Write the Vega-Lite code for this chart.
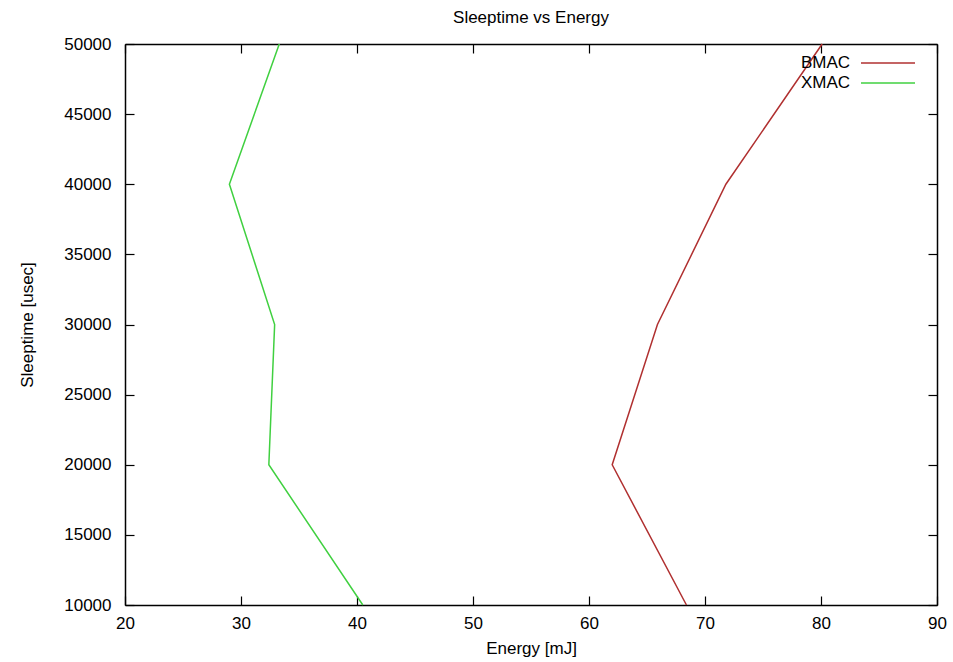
{
  "$schema": "https://vega.github.io/schema/vega-lite/v6.json",
  "width": 812,
  "height": 561,
  "autosize": {"type": "none"},
  "padding": {"left": 125, "top": 44, "right": 16, "bottom": 57},
  "background": "white",
  "config": {
    "view": {"stroke": null},
    "font": "Liberation Sans",
    "axis": {
      "domainColor": "black",
      "tickColor": "black",
      "labelColor": "black",
      "titleColor": "black",
      "labelFontSize": 17,
      "titleFontSize": 17,
      "titleFontWeight": "normal",
      "grid": false,
      "domainWidth": 1.5,
      "tickWidth": 1.2,
      "labelFlush": false
    }
  },
  "title": {"text": "Sleeptime vs Energy", "fontSize": 17, "fontWeight": "normal", "offset": 8, "color": "black"},
  "data": {
    "values": [
      {"protocol": "BMAC", "sleeptime": 10000, "energy": 68.4},
      {"protocol": "BMAC", "sleeptime": 20000, "energy": 62.0},
      {"protocol": "BMAC", "sleeptime": 30000, "energy": 65.9},
      {"protocol": "BMAC", "sleeptime": 40000, "energy": 71.8},
      {"protocol": "BMAC", "sleeptime": 50000, "energy": 80.1},
      {"protocol": "XMAC", "sleeptime": 10000, "energy": 40.5},
      {"protocol": "XMAC", "sleeptime": 20000, "energy": 32.4},
      {"protocol": "XMAC", "sleeptime": 30000, "energy": 32.9},
      {"protocol": "XMAC", "sleeptime": 40000, "energy": 29.0},
      {"protocol": "XMAC", "sleeptime": 50000, "energy": 33.3}
    ]
  },
  "layer": [
    {
      "mark": {"type": "line", "strokeWidth": 1.5},
      "encoding": {
        "x": {
          "field": "energy", "type": "quantitative",
          "scale": {"domain": [20, 90], "nice": false, "zero": false},
          "axis": {"title": "Energy [mJ]", "values": [20, 30, 40, 50, 60, 70, 80, 90], "tickSize": -9, "labelPadding": 19, "titlePadding": 9}
        },
        "y": {
          "field": "sleeptime", "type": "quantitative",
          "scale": {"domain": [10000, 50000], "nice": false, "zero": false},
          "axis": {"title": "Sleeptime [usec]", "format": "d", "values": [10000, 15000, 20000, 25000, 30000, 35000, 40000, 45000, 50000], "tickSize": -9, "labelPadding": 23, "titlePadding": 27}
        },
        "color": {
          "field": "protocol", "type": "nominal",
          "scale": {"domain": ["BMAC", "XMAC"], "range": ["#b03030", "#40d040"]},
          "legend": {
            "title": null, "orient": "none", "legendX": 753, "legendY": 9,
            "symbolType": "M-3,0H3", "symbolSize": 324, "symbolStrokeWidth": 1.5,
            "labelAlign": "right", "labelOffset": -48, "labelFontSize": 17, "labelColor": "black",
            "padding": 0, "rowPadding": 2
          }
        },
        "order": {"field": "sleeptime", "type": "quantitative"}
      }
    },
    {
      "mark": {"type": "line", "opacity": 0},
      "encoding": {
        "x": {
          "field": "energy", "type": "quantitative",
          "scale": {"domain": [20, 90], "nice": false, "zero": false},
          "axis": {"orient": "top", "title": null, "labels": false, "values": [20, 30, 40, 50, 60, 70, 80, 90], "tickSize": -9}
        },
        "y": {
          "field": "sleeptime", "type": "quantitative",
          "scale": {"domain": [10000, 50000], "nice": false, "zero": false},
          "axis": {"orient": "right", "title": null, "labels": false, "values": [10000, 15000, 20000, 25000, 30000, 35000, 40000, 45000, 50000], "tickSize": -9}
        },
        "detail": {"field": "protocol"},
        "order": {"field": "sleeptime", "type": "quantitative"}
      }
    }
  ],
  "resolve": {"axis": {"x": "independent", "y": "independent"}}
}
